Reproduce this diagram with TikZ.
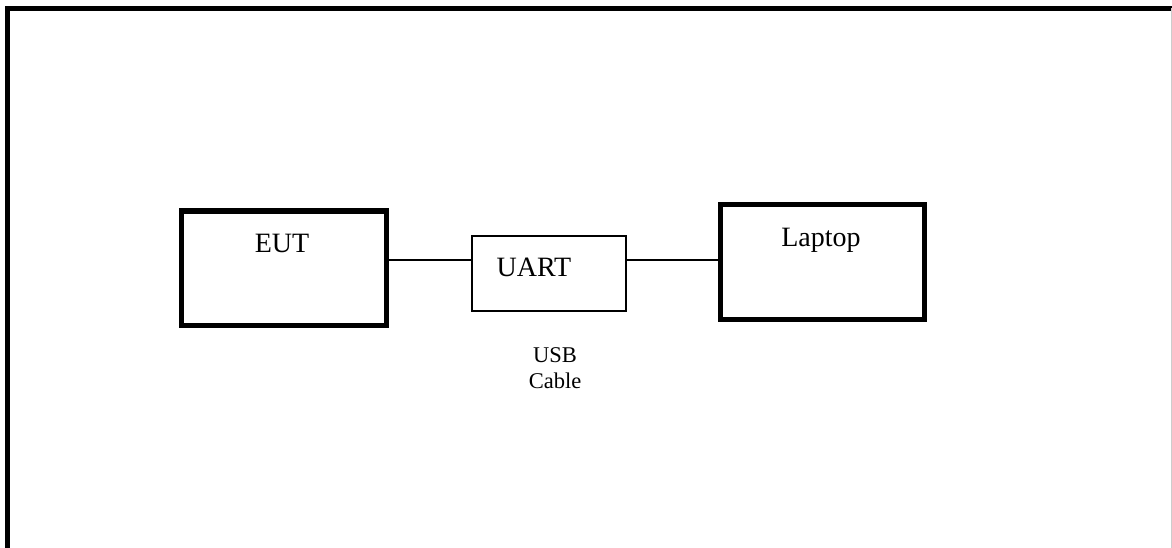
\documentclass[tikz,border=0pt]{standalone}
\usepackage{fontspec}
\setmainfont{Liberation Serif}
\begin{document}
\begin{tikzpicture}[x=1pt,y=-1pt,
  bigtxt/.style={anchor=base,inner sep=0pt,font=\fontsize{28}{34}\selectfont},
  smalltxt/.style={anchor=base,inner sep=0pt,font=\fontsize{22.5}{26}\selectfont,align=center},
  wire/.style={draw=black,line width=1.3pt}]
\useasboundingbox (0,0) rectangle (1172,548);
% outer frame
\draw[line width=5pt] (7.5,550) -- (7.5,8.5) -- (1174,8.5);
\draw[black!20,line width=1pt] (1171,8.5) -- (1171,548);
% boxes
\node[draw=black,line width=5pt,inner sep=0pt,minimum width=205pt,minimum height=114pt] (EUT) at (283.5,268) {};
\node[draw=black,line width=1.3pt,inner sep=0pt,minimum width=154pt,minimum height=75pt] (UART) at (549,273.5) {};
\node[draw=black,line width=5pt,inner sep=0pt,minimum width=204pt,minimum height=114pt] (LAP) at (822,262) {};
% texts
\node[bigtxt] (teut) at (282,252) {EUT};
\node[bigtxt] (tuart) at (534,276) {UART};
\node[bigtxt] (tlap) at (821,246) {Laptop};
\node[smalltxt] (tusb) at (555,388) {USB\\Cable};
% connectors
\coordinate (lvl) at (0,260);
\draw[wire] (EUT.east |- lvl) -- (UART.west |- lvl);
\draw[wire] (UART.east |- lvl) -- (LAP.west |- lvl);
\end{tikzpicture}
\end{document}
